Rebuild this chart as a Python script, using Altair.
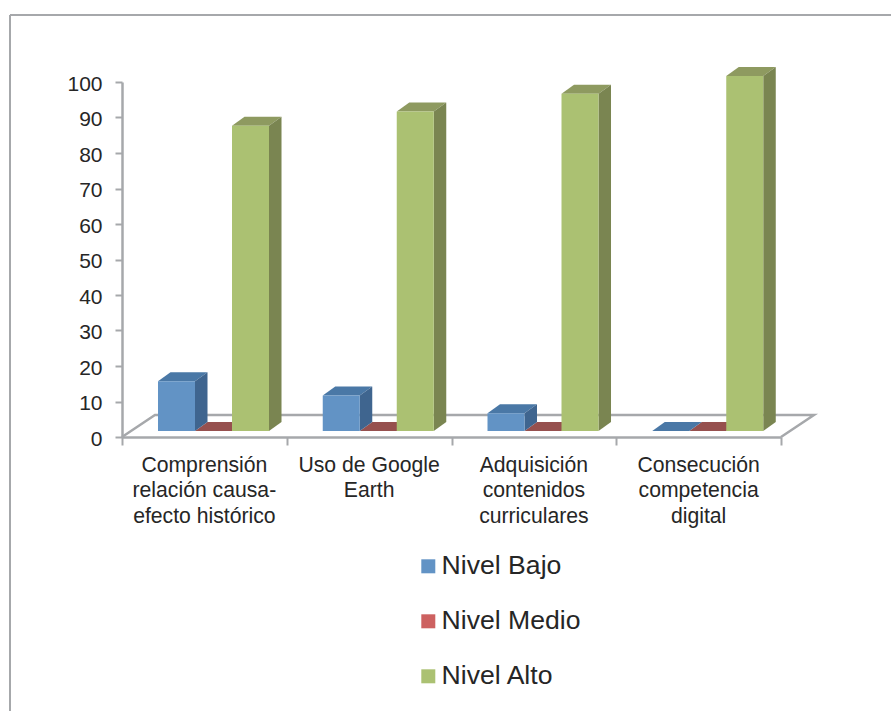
import altair as alt
import pandas as pd

categories = [
    "Comprensión\nrelación causa-\nefecto histórico",
    "Uso de Google\nEarth",
    "Adquisición\ncontenidos\ncurriculares",
    "Consecución\ncompetencia\ndigital",
]
nivel_bajo = [14, 10, 5, 0]
nivel_medio = [0, 0, 0, 0]
nivel_alto = [86, 90, 95, 100]

series_names = ["Nivel Bajo", "Nivel Medio", "Nivel Alto"]
series_values = [nivel_bajo, nivel_medio, nivel_alto]
front_colors = ["#6293C5", "#CD6160", "#ABC172"]
top_colors = ["#4A78A6", "#96504E", "#8E9A60"]
side_colors = ["#3F658F", "#96504E", "#7A8551"]

FONT = "Liberation Sans"
GREY = "#A6A8AB"
TEXT = "#262626"

# Pseudo-3D geometry, expressed in axis units
BAR_START = 0.2185
BAR_WIDTH = 0.2246
BAR_BASE = 1.69
BAR_DX = 0.0759
BAR_DY = 2.535
FLOOR_DX = 0.2
FLOOR_DY = 6.2

front_rows, top_rows, side_rows = [], [], []
for s, (name, values) in enumerate(zip(series_names, series_values)):
    for c, v in enumerate(values):
        left = c + BAR_START + s * BAR_WIDTH
        right = left + BAR_WIDTH
        low = BAR_BASE
        high = BAR_BASE + v
        key = f"{s}-{c}"
        front_rows.append(dict(series=name, x=left, x2=right, y=low, y2=high))
        top_rows += [
            dict(series=name, key=key, y=high, x=left, x2=right),
            dict(series=name, key=key, y=high + BAR_DY, x=left + BAR_DX, x2=right + BAR_DX),
        ]
        side_rows += [
            dict(series=name, key=key, x=right, y=low, y2=high),
            dict(series=name, key=key, x=right + BAR_DX, y=low + BAR_DY, y2=high + BAR_DY),
        ]
front_df = pd.DataFrame(front_rows)
top_df = pd.DataFrame(top_rows)
side_df = pd.DataFrame(side_rows)

x_scale = alt.Scale(domain=[0, 4], nice=False, zero=False)
y_scale = alt.Scale(domain=[0, 100], nice=False, zero=False)

axis_style = dict(
    title=None, grid=False, domainColor=GREY, domainWidth=2.5, tickColor=GREY, tickWidth=2,
)
x_axis = alt.Axis(values=[0, 1, 2, 3, 4], labels=False, tickSize=8, **axis_style)
y_axis = alt.Axis(
    values=list(range(0, 101, 10)), tickSize=7, labelFont=FONT, labelFontSize=21,
    labelColor=TEXT, labelPadding=13, labelOffset=2, **axis_style,
)
X = alt.X("x:Q", scale=x_scale, axis=x_axis)
Y = alt.Y("y:Q", scale=y_scale, axis=y_axis)

# Floor of the plot: receding sides and back edge
floor_df = pd.DataFrame(
    dict(
        x=[0, FLOOR_DX, 4 + FLOOR_DX, 4],
        y=[0, FLOOR_DY, FLOOR_DY, 0],
        o=[0, 1, 2, 3],
    )
)
floor = alt.Chart(floor_df).mark_line(color=GREY, strokeWidth=2.5, clip=False).encode(
    x=X, y=Y, order="o:Q",
)

layers = [floor]
# Red first so that the neighbouring blue sides and green fronts sit above it
for s in [1, 0, 2]:
    name = series_names[s]
    top = (
        alt.Chart(top_df[top_df.series == name])
        .mark_area(orient="horizontal", color=top_colors[s], clip=False)
        .encode(y=Y, x=X, x2="x2:Q", detail="key:N")
    )
    side = (
        alt.Chart(side_df[side_df.series == name])
        .mark_area(color=side_colors[s], clip=False)
        .encode(x=X, y=Y, y2="y2:Q", detail="key:N")
    )
    layers += [top, side]

front = alt.Chart(front_df).mark_rect(clip=False).encode(
    x=X,
    x2="x2:Q",
    y=Y,
    y2="y2:Q",
    color=alt.Color(
        "series:N",
        scale=alt.Scale(domain=series_names, range=front_colors),
        legend=alt.Legend(
            title=None, orient="none", legendX=291, legendY=471, symbolType="square",
            symbolSize=196, symbolStrokeWidth=0, symbolOffset=2, labelFont=FONT,
            labelFontSize=26.6, labelColor=TEXT, labelOffset=0, rowPadding=28,
            direction="vertical", padding=0,
        ),
    ),
)
layers.append(front)

labels_df = pd.DataFrame(dict(x=[c + 0.5 for c in range(len(categories))], label=categories))
labels = alt.Chart(labels_df).mark_text(
    font=FONT, fontSize=21.2, color=TEXT, baseline="top", align="center",
    lineBreak="\n", lineHeight=25.5, clip=False,
).encode(
    x=X,
    y=alt.value(372.5),
    text="label:N",
)
layers.append(labels)

# Outer frame of the figure; its right and bottom sides run past the page
frame_top = alt.Chart(pd.DataFrame({"a": [0]})).mark_rule(color=GREY, strokeWidth=2).encode(
    x=alt.value(-112), x2=alt.value(790), y=alt.value(-67),
)
frame_left = alt.Chart(pd.DataFrame({"a": [0]})).mark_rule(color=GREY, strokeWidth=2).encode(
    x=alt.value(-112), y=alt.value(-67), y2=alt.value(640),
)
layers += [frame_top, frame_left]

chart = (
    alt.layer(*layers)
    .properties(
        width=659,
        height=355,
        padding={"left": 122, "top": 82, "right": 110, "bottom": 274},
        autosize=alt.AutoSizeParams(type="none"),
        background="white",
    )
    .configure_view(stroke=None)
)

chart.save("out.html", embed_options={"renderer": "svg", "actions": False})
